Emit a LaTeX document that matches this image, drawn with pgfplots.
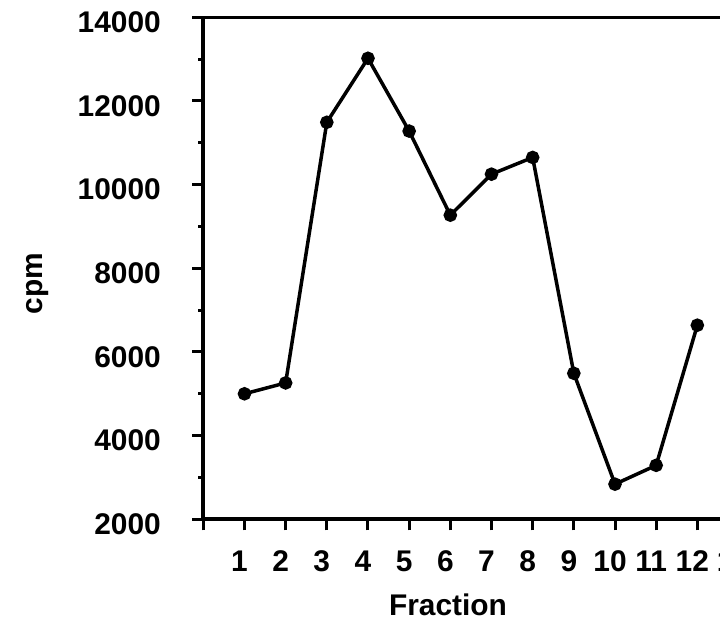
\documentclass[border=0pt]{standalone}
\usepackage{fontspec}
\setmainfont{Liberation Sans}
\usepackage{pgfplots}
\pgfplotsset{compat=1.18}
\begin{document}
\begin{tikzpicture}
\begin{axis}[
  at={(0,0)}, anchor=south west,
  scale only axis,
  width=555.8bp, height=502bp,
  xmin=0, xmax=13.5, ymin=2000, ymax=14000,
  scaled y ticks=false, scaled x ticks=false,
  axis x line=bottom, axis y line=left,
  axis line style={-, line width=4bp, black},
  clip=false,
  tick align=outside,
  major tick length=11bp,
  minor tick length=5bp,
  every tick/.style={line width=3bp, black},
  xtick={0,1,2,3,4,5,6,7,8,9,10,11,12,13},
  xticklabels={,1,2,3,4,5,6,7,8,9,10,11,12,13},
  ytick={2000,4000,6000,8000,10000,12000,14000},
  yticklabels={2000,4000,6000,8000,10000,12000,14000},
  minor y tick num=1,
  tick label style={font=\fontsize{30}{36}\selectfont\bfseries},
  xticklabel style={xshift=-5bp, yshift=-17bp},
  yticklabel style={xshift=-28bp, yshift=-5bp},
]
\addplot[black, line width=3.5bp, mark=*, mark size=5bp, mark options={solid, fill=black}] coordinates {
  (1,5000) (2,5260) (3,11490) (4,13020) (5,11280) (6,9270)
  (7,10250) (8,10650) (9,5490) (10,2840) (11,3290) (12,6640)
};
\draw[line width=3bp, black] (rel axis cs:0,1) -- (rel axis cs:1,1);
\end{axis}
\node[inner sep=0pt, font=\fontsize{30}{36}\selectfont\bfseries] at (244.7bp,-85.7bp) {Fraction};
\node[inner sep=0pt, rotate=90, font=\fontsize{30}{36}\selectfont\bfseries] at (-166bp,236bp) {cpm};
\pgfresetboundingbox
\path[use as bounding box] (-203.3bp,-107.7bp) rectangle (516.7bp,519.3bp);
\end{tikzpicture}
\end{document}
